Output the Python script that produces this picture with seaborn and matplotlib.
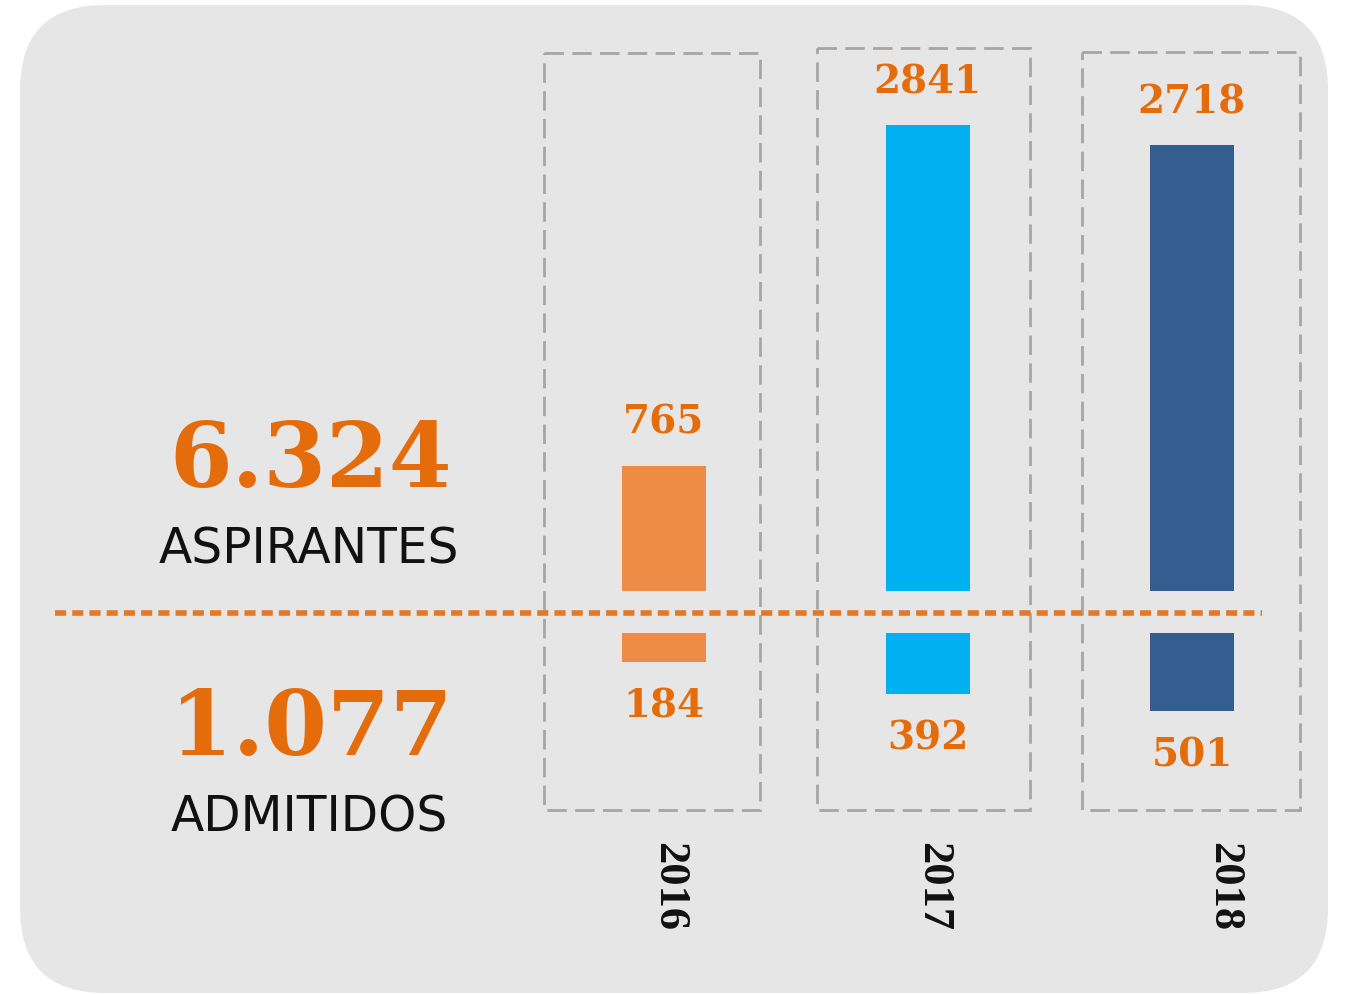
import matplotlib
matplotlib.use("Agg")
import matplotlib.pyplot as plt
import seaborn as sns
from matplotlib.patches import FancyBboxPatch, Rectangle

# data
years = ["2016", "2017", "2018"]
aspirantes = [765, 2841, 2718]
admitidos = [184, 392, 501]
totales = ["6.324", "1.077"]
etiquetas = ["ASPIRANTES", "ADMITIDOS"]
colores = ["#EE8B45", "#00B0F0", "#345E8F"]

naranja = "#E46C0A"
gris_fondo = "#E6E6E6"

sns.set_style("white")
plt.rcParams["font.family"] = ["DejaVu Sans"]

W, H = 1345, 994
fig = plt.figure(figsize=(W / 100, H / 100), dpi=100, facecolor="white")

# background panel in pixel coords
bg = fig.add_axes([0, 0, 1, 1])
bg.set_xlim(0, W)
bg.set_ylim(H, 0)
bg.axis("off")
bg.add_patch(FancyBboxPatch((20, 5), 1308, 988,
                            boxstyle="round,pad=0,rounding_size=85",
                            fc=gris_fondo, ec="none"))

# dashed boxes around each year
for x0, y0, w, h in [(544, 53, 216, 757), (817, 48, 213, 762), (1082, 52, 218, 758)]:
    bg.add_patch(Rectangle((x0, y0), w, h, fill=False, ec="#A6A6A6",
                           lw=2, ls=(0, (7, 3))))

# dotted divider
bg.plot([55, 1262], [613, 613], color="#E87722", lw=4, ls=(0, (2.0, 1.1)),
        solid_capstyle="butt")

# totals on the left
for txt, y in zip(totales, [462, 730]):
    bg.text(311, y, txt, ha="center", va="center", fontsize=65,
            family="DejaVu Serif", weight="bold", color=naranja)
for txt, y in zip(etiquetas, [550, 818]):
    bg.text(309, y, txt, ha="center", va="center", fontsize=35,
            family="DejaVu Sans", color="#111111")

# upper bars: aspirantes
ax_top = fig.add_axes([532 / W, (H - 591) / H, 792 / W, 551 / H])
sns.barplot(x=years, y=aspirantes, hue=years, palette=colores, width=0.32,
            legend=False, ax=ax_top, saturation=1, linewidth=0)
ax_top.set_xlim(-0.5, 2.5)
ax_top.set_ylim(0, 551 / 0.164)
ax_top.axis("off")
for i, v in enumerate(aspirantes):
    ax_top.annotate(str(v), (i, v), xytext=(0, 31), textcoords="offset points",
                    ha="center", va="center", fontsize=28,
                    family="DejaVu Serif", weight="bold", color=naranja)

# lower bars: admitidos (hanging down)
ax_bot = fig.add_axes([532 / W, (H - 830) / H, 792 / W, 197 / H])
sns.barplot(x=years, y=admitidos, hue=years, palette=colores, width=0.32,
            legend=False, ax=ax_bot, saturation=1, linewidth=0)
ax_bot.set_xlim(-0.5, 2.5)
ax_bot.set_ylim(197 / 0.156, 0)
ax_bot.axis("off")
for i, v in enumerate(admitidos):
    ax_bot.annotate(str(v), (i, v), xytext=(0, -32), textcoords="offset points",
                    ha="center", va="center", fontsize=28,
                    family="DejaVu Serif", weight="bold", color=naranja)

# year labels, rotated
for i, (yr, dx) in enumerate(zip(years, [0.02, 0.02, 0.12])):
    ax_bot.annotate(yr, (i + dx, 0), xycoords=("data", "axes fraction"),
                    xytext=(0, -41), textcoords="offset points",
                    ha="center", va="center", rotation=270, fontsize=32,
                    family="Liberation Serif", weight="bold", color="#111111")

fig.savefig("out.png", dpi=100, facecolor="white")
